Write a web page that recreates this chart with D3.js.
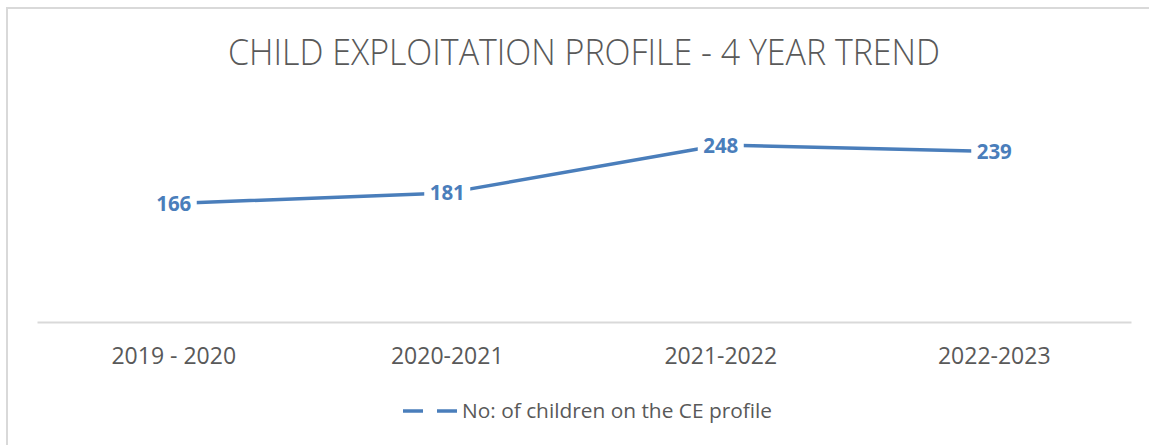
<!DOCTYPE html>
<html>
<head>
<meta charset="utf-8">
<script src="https://cdn.jsdelivr.net/npm/d3@7"></script>
<style>
  html, body { margin: 0; padding: 0; background: #fff; }
  svg { display: block; }
</style>
</head>
<body>
<svg id="chart" width="1149" height="445"></svg>
<script>
const titleText = "CHILD EXPLOITATION PROFILE - 4 YEAR TREND";
const categories = ["2019 - 2020", "2020-2021", "2021-2022", "2022-2023"];
const seriesName = "No: of children on the CE profile";
const values = [166, 181, 248, 239];
const yDomain = [0, 300];

const svg = d3.select("#chart");
const W = 1149, H = 445;
const blue = "#4a7ebb";
const grey = "#595959";
const font = "'Open Sans', 'Noto Sans', sans-serif";

// outer border
svg.append("rect")
  .attr("x", 7).attr("y", 8).attr("width", W + 20).attr("height", H + 20)
  .attr("fill", "#fff").attr("stroke", "#d9d9d9").attr("stroke-width", 2);

// title
svg.append("text")
  .attr("x", 584).attr("y", 65)
  .attr("text-anchor", "middle")
  .attr("font-family", font).attr("font-weight", 300)
  .attr("font-size", 37).attr("fill", grey)
  .attr("textLength", 712).attr("lengthAdjust", "spacingAndGlyphs")
  .text(titleText);

const plot = { left: 37, right: 1131, top: 108, bottom: 322 };

const x = d3.scaleBand().domain(categories).range([plot.left, plot.right]);
const y = d3.scaleLinear().domain(yDomain).range([plot.bottom, plot.top]);
const cx = d => x(d) + x.bandwidth() / 2;

// x axis
const axis = svg.append("g")
  .attr("transform", `translate(0,${plot.bottom})`)
  .call(d3.axisBottom(x).tickSize(0).tickPadding(0));
axis.select(".domain").attr("stroke", "#d9d9d9").attr("stroke-width", 2);
axis.selectAll(".tick text")
  .attr("font-family", font).attr("font-size", 23).attr("fill", grey)
  .attr("y", 42).attr("dy", null);

// line
const pts = categories.map((c, i) => ({ c, v: values[i] }));
svg.append("path")
  .datum(pts)
  .attr("fill", "none").attr("stroke", blue).attr("stroke-width", 3.5)
  .attr("stroke-linejoin", "round")
  .attr("d", d3.line().x(d => cx(d.c)).y(d => y(d.v)));

// data labels
const lab = svg.append("g").selectAll("g").data(pts).join("g")
  .attr("transform", d => `translate(${cx(d.c)},${y(d.v)})`);
lab.append("rect")
  .attr("x", -23).attr("y", -12).attr("width", 46).attr("height", 24)
  .attr("fill", "#fff");
lab.append("text")
  .attr("text-anchor", "middle").attr("y", 7.5)
  .attr("font-family", font).attr("font-weight", 700)
  .attr("font-size", 20.5).attr("fill", blue)
  .text(d => d.v);

// legend
const lg = svg.append("g");
lg.append("line").attr("x1", 403).attr("x2", 423).attr("y1", 411).attr("y2", 411)
  .attr("stroke", blue).attr("stroke-width", 3.5);
lg.append("line").attr("x1", 437).attr("x2", 457).attr("y1", 411).attr("y2", 411)
  .attr("stroke", blue).attr("stroke-width", 3.5);
lg.append("text")
  .attr("x", 462).attr("y", 418)
  .attr("font-family", font).attr("font-size", 19.5).attr("fill", grey)
  .attr("textLength", 310).attr("lengthAdjust", "spacingAndGlyphs")
  .text(seriesName);
</script>
</body>
</html>
